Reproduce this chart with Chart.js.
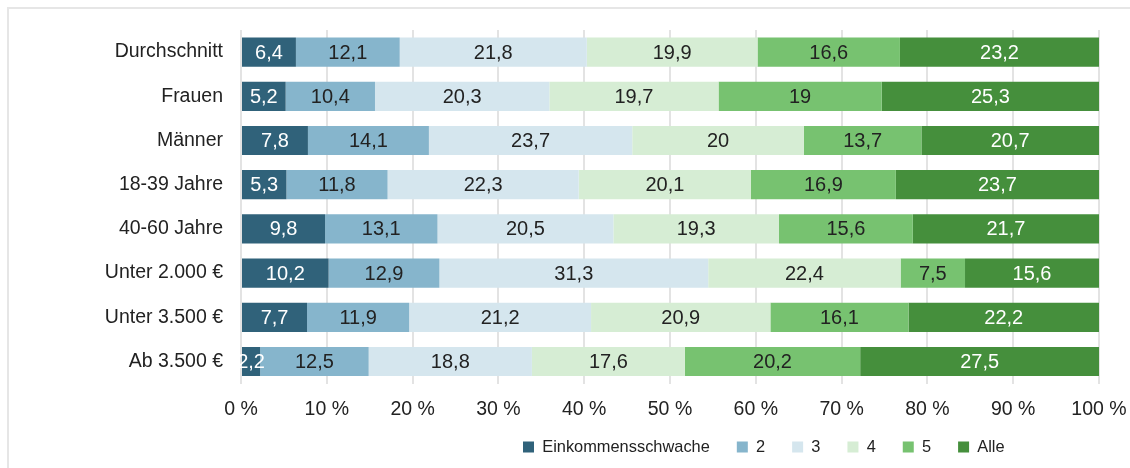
<!DOCTYPE html>
<html>
<head>
<meta charset="utf-8">
<script src="https://cdn.jsdelivr.net/npm/chart.js@4/dist/chart.umd.min.js"></script>
<style>
  html, body { margin: 0; padding: 0; background: #fff; }
  #frame {
    position: absolute; left: 7px; top: 7px; width: 1140px; height: 480px;
    border-left: 2px solid #e6e6e6; border-top: 2px solid #e6e6e6;
  }
  #wrap { position: absolute; left: 0; top: 0; width: 1130px; height: 468px; }
</style>
</head>
<body>
<div id="frame"></div>
<div id="wrap"><canvas id="chart"></canvas></div>
<script>
// Categories and series values (percent)
const categories = ['Durchschnitt', 'Frauen', 'Männer', '18-39 Jahre', '40-60 Jahre', 'Unter 2.000 €', 'Unter 3.500 €', 'Ab 3.500 €'];
const seriesNames = ['Einkommensschwache', '2', '3', '4', '5', 'Alle'];

const einkommensschwache = [6.4, 5.2, 7.8, 5.3, 9.8, 10.2, 7.7, 2.2];
const gruppe2 = [12.1, 10.4, 14.1, 11.8, 13.1, 12.9, 11.9, 12.5];
const gruppe3 = [21.8, 20.3, 23.7, 22.3, 20.5, 31.3, 21.2, 18.8];
const gruppe4 = [19.9, 19.7, 20, 20.1, 19.3, 22.4, 20.9, 17.6];
const gruppe5 = [16.6, 19, 13.7, 16.9, 15.6, 7.5, 16.1, 20.2];
const alle = [23.2, 25.3, 20.7, 23.7, 21.7, 15.6, 22.2, 27.5];

const xTicks = [0, 10, 20, 30, 40, 50, 60, 70, 80, 90, 100];

const colors = ['#30627a', '#86b5cc', '#d5e6ee', '#d6edd4', '#77c270', '#458f3c'];
const labelColors = ['#ffffff', '#222222', '#222222', '#222222', '#222222', '#ffffff'];

const raw = [einkommensschwache, gruppe2, gruppe3, gruppe4, gruppe5, alle];
// 100% stacked: normalize each row to its total
const rowSums = categories.map((_, i) => raw.reduce((s, arr) => s + arr[i], 0));

const FONT = "'Liberation Sans', Arial, sans-serif";

const barLabels = {
    id: 'barLabels',
    afterDatasetsDraw(chart) {
        const ctx = chart.ctx;
        ctx.save();
        ctx.font = '20px ' + FONT;
        ctx.textAlign = 'center';
        ctx.textBaseline = 'middle';
        chart.data.datasets.forEach((ds, di) => {
            const meta = chart.getDatasetMeta(di);
            meta.data.forEach((bar, i) => {
                const x = (bar.x + bar.base) / 2;
                ctx.fillStyle = labelColors[di];
                ctx.fillText(String(ds.rawValues[i]).replace('.', ','), x, bar.y + 1);
            });
        });
        ctx.restore();
    }
};

// legend sits under the right part of the plot, a bit closer to the axis labels
const legendShift = {
    id: 'legendShift',
    afterLayout(chart) {
        const lg = chart.legend;
        if (!lg) return;
        const pad = lg.options.labels.padding;
        const size = lg.options.labels.font.size;
        lg.left = 523 - pad;
        lg.right = chart.width;
        lg.top = 447 - size / 2 - pad;
        lg.bottom = lg.top + lg.height;
    }
};

new Chart(document.getElementById('chart'), {
    type: 'bar',
    data: {
        labels: categories,
        datasets: raw.map((arr, di) => ({
            label: seriesNames[di],
            data: arr.map((v, i) => v / rowSums[i] * 100),
            rawValues: arr,
            backgroundColor: colors[di],
            borderWidth: 0,
            categoryPercentage: 1,
            barPercentage: 0.66,
        })),
    },
    plugins: [barLabels, legendShift],
    options: {
        indexAxis: 'y',
        responsive: true,
        maintainAspectRatio: false,
        animation: false,
        layout: { padding: { left: 0, right: 31, top: 30, bottom: -7 } },
        scales: {
            x: {
                stacked: true,
                min: 0,
                max: 100,
                afterBuildTicks: axis => { axis.ticks = xTicks.map(v => ({ value: v })); },
                afterFit: axis => { axis.height = 38; axis.paddingLeft = 0; axis.paddingRight = 0; },
                grid: { color: '#e3e3e3', lineWidth: 2, drawTicks: false, tickLength: 0 },
                border: { display: false },
                ticks: {
                    padding: 14,
                    color: '#222',
                    font: { family: FONT, size: 19.5 },
                    callback: v => v + ' %',
                },
            },
            y: {
                stacked: true,
                afterFit: axis => { axis.width = 241; axis.paddingTop = 0; axis.paddingBottom = 0; },
                grid: { display: false },
                border: { display: false },
                ticks: {
                    padding: 10,
                    color: '#222',
                    font: { family: FONT, size: 19.5 },
                },
            },
        },
        plugins: {
            legend: {
                position: 'bottom',
                align: 'start',
                labels: {
                    boxWidth: 11,
                    boxHeight: 11,
                    padding: 27,
                    color: '#222',
                    font: { family: FONT, size: 16.4 },
                },
            },
            tooltip: { enabled: false },
        },
    },
});
</script>
</body>
</html>
